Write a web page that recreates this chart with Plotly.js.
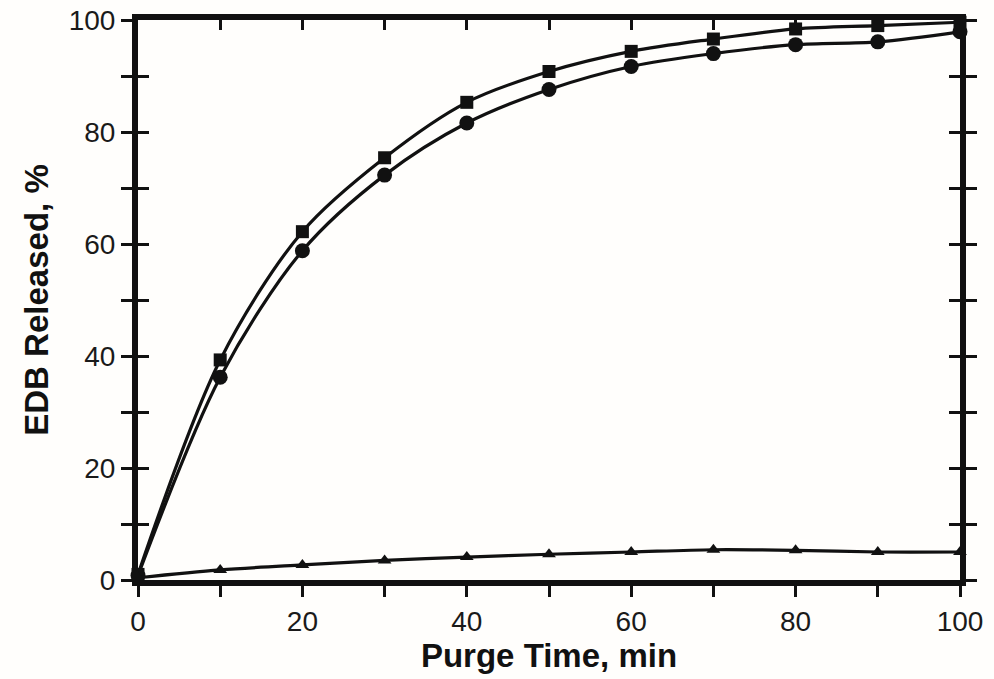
<!DOCTYPE html>
<html>
<head>
<meta charset="utf-8">
<script src="https://cdn.plot.ly/plotly-3.0.1.min.js"></script>
<style>html,body{margin:0;padding:0;background:#fffefc;}#chart{width:994px;height:679px;}</style>
</head>
<body>
<div id="chart"></div>
<script>
// Purge time (min)
var purgeTime = [0, 10, 20, 30, 40, 50, 60, 70, 80, 90, 100];
// EDB released (%) - squares series
var releasedSquares = [1.0, 39.3, 62.2, 75.4, 85.3, 90.8, 94.4, 96.6, 98.4, 99.0, 99.6];
// EDB released (%) - circles series
var releasedCircles = [0.8, 36.2, 58.8, 72.3, 81.6, 87.6, 91.7, 94.0, 95.6, 96.1, 97.9];
// EDB released (%) - triangles series
var releasedTriangles = [0.4, 1.8, 2.7, 3.5, 4.1, 4.6, 5.0, 5.4, 5.3, 5.0, 5.0];

var xTickVals = [0, 20, 40, 60, 80, 100];
var yTickVals = [0, 20, 40, 60, 80, 100];

var ink = '#111111';
function series(y, symbol, size) {
  return {
    x: purgeTime, y: y, type: 'scatter', mode: 'lines+markers',
    line: {color: ink, width: 3.2, shape: 'spline', smoothing: 0.9},
    marker: {symbol: symbol, size: size, color: ink},
    cliponaxis: false, showlegend: false, hoverinfo: 'skip'
  };
}
var data = [
  series(releasedSquares, 'square', 13),
  series(releasedCircles, 'circle', 15),
  series(releasedTriangles, 'triangle-up', 12),
  {x: [], y: [], xaxis: 'x2', yaxis: 'y2', type: 'scatter', showlegend: false}
];
var tickFont = {family: 'Liberation Sans, Arial, sans-serif', size: 28, color: '#1a1a1a'};
var titleFont = {family: 'Liberation Sans, Arial, sans-serif', size: 33, color: ink, weight: 'bold'};
var layout = {
  width: 994, height: 679,
  margin: {l: 138, r: 34, t: 20, b: 99},
  paper_bgcolor: '#fffefc', plot_bgcolor: '#fffefc',
  showlegend: false,
  xaxis: {
    range: [0, 100], tickvals: xTickVals, ticktext: xTickVals.map(String),
    ticks: 'outside', ticklen: 11, tickwidth: 3, tickcolor: ink,
    minor: {tickvals: [10, 30, 50, 70, 90], ticks: 'outside', ticklen: 11, tickwidth: 3, tickcolor: ink},
    showline: true, linewidth: 6, linecolor: ink, showgrid: false, zeroline: false,
    tickfont: tickFont, automargin: false,
    title: {text: 'Purge Time, min', font: titleFont, standoff: 10}
  },
  yaxis: {
    range: [0, 100], tickvals: yTickVals, ticktext: yTickVals.map(String),
    ticks: 'outside', ticklen: 11, tickwidth: 3, tickcolor: ink,
    minor: {tickvals: [10, 30, 50, 70, 90], ticks: 'outside', ticklen: 11, tickwidth: 3, tickcolor: ink},
    mirror: 'allticks',
    showline: true, linewidth: 6, linecolor: ink, showgrid: false, zeroline: false,
    tickfont: tickFont, automargin: false,
    title: {text: 'EDB Released, %', font: titleFont, standoff: 12}
  },
  xaxis2: {
    overlaying: 'x', side: 'top', anchor: 'y2', range: [0, 100],
    dtick: 10, tick0: 0, ticks: 'inside', ticklen: 10, tickwidth: 3, tickcolor: ink,
    showticklabels: false, showline: true, linewidth: 6, linecolor: ink,
    showgrid: false, zeroline: false
  },
  yaxis2: {
    overlaying: 'y', side: 'left', anchor: 'x2', range: [0, 100],
    dtick: 10, tick0: 0, ticks: 'inside', ticklen: 11, tickwidth: 3, tickcolor: ink,
    mirror: 'ticks',
    showticklabels: false, showline: true, linewidth: 6, linecolor: ink,
    showgrid: false, zeroline: false
  }
};
Plotly.newPlot('chart', data, layout, {staticPlot: true, displayModeBar: false});
</script>
</body>
</html>
